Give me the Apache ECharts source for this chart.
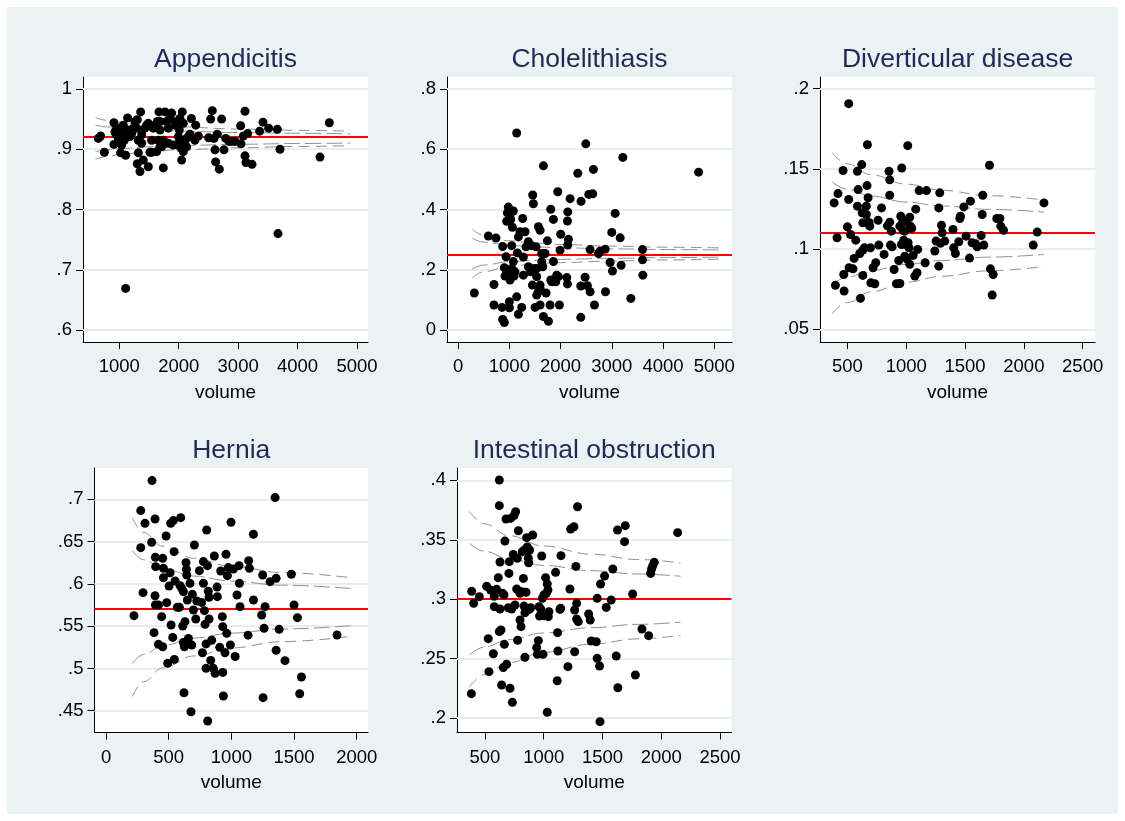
<!DOCTYPE html>
<html>
<head>
<meta charset="utf-8">
<script src="https://cdn.jsdelivr.net/npm/echarts@6/dist/echarts.min.js"></script>
<style>
html,body{margin:0;padding:0;background:#fff;}
#bg{position:absolute;left:7px;top:7px;width:1111px;height:807px;background:#EAF2F3;}
#main{position:absolute;left:0;top:0;width:1125px;height:821px;}
</style>
</head>
<body>
<div id="bg"></div>
<div id="main"></div>
<script>
// ---------------- DATA ----------------
const titles = ['Appendicitis','Cholelithiasis','Diverticular disease','Hernia','Intestinal obstruction'];

const appXTicks = [1000,2000,3000,4000,5000];
const appYTicks = [0.6,0.7,0.8,0.9,1];
const appMean = 0.918;
const appendicitis = [[647,.918],[686,.922],[748,.895],[910,.944],[910,.908],[927,.929],[944,.925],[1022,.894],[1067,.940],[1084,.915],[1107,.890],[1107,.669],[1140,.952],[1151,.932],[1180,.921],[1236,.935],[1264,.946],[1303,.949],[1320,.915],[1320,.894],[1303,.876],[1348,.863],[1359,.962],[1376,.910],[1404,.882],[1488,.943],[1488,.871],[1516,.895],[1544,.895],[1572,.935],[1640,.946],[1668,.962],[1684,.932],[1712,.904],[1741,.869],[1769,.962],[1741,.915],[1825,.935],[1825,.910],[1853,.951],[1881,.960],[1909,.907],[1965,.946],[2010,.932],[2038,.902],[2049,.882],[2060,.962],[2077,.943],[2105,.915],[2133,.904],[2189,.925],[2212,.951],[2273,.915],[2285,.940],[2330,.922],[2503,.919],[2537,.950],[2565,.964],[2593,.918],[2610,.899],[2621,.879],[2649,.925],[2683,.867],[2722,.950],[2762,.899],[2790,.918],[2846,.913],[2891,.913],[2947,.913],[3042,.939],[3048,.909],[3087,.922],[3115,.889],[3115,.963],[3132,.878],[3160,.926],[3233,.875],[3362,.930],[3418,.945],[3513,.935],[3659,.933],[3704,.900],[3670,.760],[4377,.887],[4534,.944],[1011,.929],[1056,.921],[1123,.926],[1208,.926],[1292,.935],[1376,.924],[1432,.935],[1460,.940],[1544,.915],[1600,.940],[1656,.915],[1684,.946],[1797,.946],[1937,.940],[1993,.921],[2021,.951],[2077,.896],[2133,.918],[2161,.921],[1684,.904],[1769,.910],[2021,.915],[983,.918],[955,.935],[1039,.907],[1628,.896],[1982,.907]];
const appN  = [600,800,1000,1500,2000,3000,4000,4890];
const appU3 = [.9526,.9480,.9448,.9399,.9370,.9335,.9314,.9301];
const appU2 = [.9400,.9370,.9350,.9319,.9300,.9278,.9265,.9257];
const appL2 = [.8960,.8990,.9010,.9041,.9060,.9082,.9095,.9103];
const appL3 = [.8834,.8880,.8912,.8961,.8990,.9025,.9046,.9059];

const choXTicks = [0,1000,2000,3000,4000,5000];
const choYTicks = [0,0.2,0.4,0.6,0.8];
const choMean = 0.2537;
const cholelithiasis = [[316,.123],[590,.312],[700,.151],[700,.083],[739,.305],[857,.075],[870,.277],[870,.035],[902,.025],[902,.207],[915,.179],[935,.243],[948,.361],[961,.389],[980,.408],[1000,.074],[1000,.094],[1013,.383],[1026,.367],[1046,.280],[1059,.341],[1046,.204],[1013,.166],[1078,.395],[1091,.179],[1143,.654],[1156,.256],[1143,.110],[1176,.052],[1176,.309],[1208,.326],[1241,.075],[1261,.370],[1274,.242],[1274,.182],[1306,.326],[1326,.276],[1371,.293],[1436,.280],[1450,.149],[1456,.448],[1469,.419],[1482,.204],[1502,.075],[1521,.276],[1534,.116],[1567,.343],[1600,.331],[1600,.083],[1600,.149],[1632,.254],[1652,.210],[1665,.545],[1665,.045],[1697,.254],[1717,.123],[1743,.296],[1763,.029],[1795,.083],[1808,.401],[1808,.166],[1860,.367],[1860,.227],[1906,.160],[1945,.459],[1958,.177],[1977,.083],[2003,.318],[1990,.265],[2121,.174],[2134,.362],[2140,.392],[2153,.301],[2186,.436],[2140,.282],[2134,.153],[2336,.520],[2394,.146],[2394,.042],[2400,.427],[2479,.175],[2492,.618],[2524,.147],[2550,.450],[2576,.127],[2576,.267],[2628,.452],[2641,.533],[2661,.083],[2740,.254],[2772,.262],[2870,.268],[2876,.127],[2967,.224],[3000,.324],[3013,.196],[3065,.387],[3163,.306],[3182,.215],[3215,.573],[3371,.105],[3599,.267],[3599,.233],[3606,.182],[4694,.524],[948,.193],[1078,.227],[1110,.193],[1371,.210],[1417,.193],[1534,.204],[1632,.227],[1534,.177],[1600,.138],[1567,.127],[1925,.182],[1828,.160]];
const choN  = [277,500,1000,1500,2000,3000,4000,5117];
const choU3 = [.3345,.3138,.2962,.2884,.2838,.2783,.2750,.2725];
const choU2 = [.3049,.2918,.2807,.2757,.2728,.2693,.2672,.2656];
const choL2 = [.2025,.2156,.2267,.2317,.2346,.2381,.2402,.2418];
const choL3 = [.1729,.1936,.2112,.2190,.2236,.2292,.2324,.2349];

const divXTicks = [500,1000,1500,2000,2500];
const divYTicks = [0.05,0.1,0.15,0.2];
const divMean = 0.1099;
const diverticular = [[387,.1288],[398,.0774],[412,.1071],[420,.1346],[463,.149],[469,.0842],[472,.0739],[500,.1139],[511,.1907],[511,.1309],[514,.0884],[526,.1091],[548,.0877],[557,.0942],[571,.1056],[585,.1268],[585,.1485],[591,.1371],[605,.0973],[611,.0693],[622,.1527],[625,.1226],[631,.1164],[631,.0836],[631,.0994],[645,.1008],[661,.1268],[661,.1216],[667,.1396],[670,.1651],[676,.1320],[684,.1166],[690,.1143],[696,.1008],[699,.0790],[718,.0884],[733,.0784],[741,.0915],[761,.1180],[767,.1025],[790,.1257],[812,.0967],[840,.1145],[854,.1485],[860,.1432],[860,.1336],[860,.1168],[866,.1025],[874,.1112],[880,.1015],[897,.0873],[917,.0784],[937,.0929],[946,.0786],[954,.1205],[962,.1506],[968,.1164],[973,.1116],[979,.1056],[988,.0956],[996,.1029],[1002,.1174],[1007,.0938],[1013,.1645],[1016,.1040],[1030,.0905],[1030,.1199],[1036,.1143],[1047,.1129],[1059,.0961],[1073,.0832],[1081,.1249],[1092,.0853],[1098,.0998],[1110,.1365],[1161,.0915],[1172,.1365],[1243,.0988],[1254,.1050],[1277,.1257],[1277,.0894],[1285,.1351],[1291,.1036],[1300,.1149],[1305,.1102],[1328,.1050],[1398,.1122],[1404,.1008],[1418,.0973],[1447,.1046],[1456,.1191],[1461,.1205],[1490,.1263],[1509,.1081],[1546,.1299],[1538,.0944],[1560,.1039],[1591,.1033],[1603,.1015],[1637,.1085],[1646,.1216],[1651,.1336],[1660,.1025],[1708,.1523],[1716,.0877],[1739,.0842],[1731,.0714],[1770,.1191],[1796,.1191],[1804,.1143],[1827,.1118],[2080,.1025],[2114,.1106],[2171,.1288],[946,.1143],[988,.1112],[1024,.1008],[960,.1029]];
const divN  = [370,500,700,1000,1300,1700,2171];
const divU3 = [.1601,.1531,.1464,.1405,.1367,.1333,.1306];
const divU2 = [.1418,.1373,.1331,.1293,.1269,.1248,.1231];
const divL2 = [.0780,.0825,.0867,.0905,.0929,.0950,.0967];
const divL3 = [.0597,.0667,.0734,.0793,.0831,.0865,.0892];

const herXTicks = [0,500,1000,1500,2000];
const herYTicks = [0.45,0.5,0.55,0.6,0.65,0.7];
const herMean = 0.5725;
const hernia = [[223,.5624],[277,.6866],[277,.6428],[295,.5896],[311,.6716],[367,.7221],[364,.6491],[383,.5423],[391,.6767],[391,.5860],[394,.6314],[394,.5750],[396,.6203],[418,.5750],[418,.5285],[444,.5612],[452,.6302],[452,.5257],[458,.6184],[458,.6073],[479,.6566],[484,.5778],[492,.5060],[503,.5975],[511,.6132],[519,.5513],[516,.6716],[532,.5367],[537,.6748],[543,.6381],[545,.5107],[551,.6034],[569,.5722],[585,.5722],[591,.5979],[596,.6783],[604,.5947],[612,.5502],[617,.5307],[617,.5908],[622,.4713],[625,.5257],[630,.5553],[638,.6251],[641,.6172],[644,.6105],[649,.5809],[657,.5355],[670,.6006],[678,.4488],[684,.5276],[689,.5876],[697,.5691],[705,.6460],[716,.5584],[724,.5797],[745,.6156],[763,.5781],[769,.5186],[777,.6006],[777,.6263],[785,.5683],[790,.5521],[798,.5290],[798,.5001],[803,.6637],[809,.6215],[811,.4378],[816,.5913],[822,.5584],[822,.5841],[835,.5095],[843,.5333],[856,.5001],[864,.6330],[870,.4942],[886,.5962],[888,.5849],[907,.5249],[915,.6152],[928,.5612],[931,.4953],[931,.5494],[936,.4674],[949,.5186],[957,.6349],[963,.5415],[968,.6097],[976,.6192],[992,.5277],[997,.6728],[1016,.6176],[1030,.5141],[1045,.5868],[1061,.6215],[1064,.6006],[1069,.5730],[1133,.5393],[1138,.6274],[1144,.6184],[1176,.6586],[1176,.5809],[1242,.5632],[1250,.6105],[1253,.4654],[1261,.5474],[1269,.5730],[1309,.6026],[1349,.7020],[1357,.6065],[1357,.5214],[1381,.5462],[1428,.5092],[1479,.6113],[1500,.5750],[1527,.5600],[1545,.4701],[1559,.4898],[1843,.5395]];
const herN  = [210,300,450,700,1000,1400,1968];
const herU3 = [.6780,.6608,.6446,.6303,.6208,.6134,.6070];
const herU2 = [.6394,.6285,.6182,.6092,.6032,.5984,.5944];
const herL2 = [.5056,.5165,.5268,.5359,.5418,.5466,.5507];
const herL3 = [.4670,.4843,.5004,.5147,.5242,.5317,.5381];

const intXTicks = [500,1000,1500,2000,2500];
const intYTicks = [0.2,0.25,0.3,0.35,0.4];
const intMean = 0.3;
const intestinal = [[384,.2205],[387,.3066],[404,.2965],[452,.3021],[514,.3108],[528,.2668],[534,.2390],[548,.3077],[571,.2541],[579,.3024],[579,.2937],[599,.3083],[613,.3181],[622,.2727],[622,.4003],[622,.3787],[628,.3313],[628,.2917],[636,.2741],[642,.2278],[650,.3049],[656,.2424],[662,.3035],[670,.3489],[665,.2620],[679,.3675],[684,.2452],[699,.2928],[704,.3217],[707,.3316],[713,.2250],[718,.3680],[727,.2917],[733,.2132],[741,.3377],[747,.3703],[755,.2951],[761,.3736],[770,.3086],[775,.3344],[778,.2654],[784,.3576],[798,.3049],[798,.2825],[807,.2769],[813,.3063],[818,.3400],[827,.3175],[832,.2942],[835,.3414],[840,.2511],[840,.2886],[849,.3058],[855,.3518],[860,.3440],[863,.3400],[869,.3344],[872,.3307],[877,.2914],[880,.3414],[889,.2928],[906,.3540],[940,.2592],[946,.2536],[954,.2651],[960,.2937],[965,.2858],[974,.2917],[983,.3363],[989,.3007],[994,.2536],[1002,.3035],[1008,.2861],[1016,.3181],[1022,.3049],[1030,.3128],[1030,.2048],[1036,.3077],[1039,.2853],[1044,.2895],[1101,.3226],[1115,.2314],[1118,.2718],[1121,.2564],[1138,.2914],[1144,.2923],[1147,.3366],[1206,.2432],[1223,.3086],[1229,.3590],[1257,.3610],[1263,.2558],[1263,.2909],[1274,.3276],[1280,.2965],[1280,.2833],[1288,.3778],[1294,.2811],[1382,.2875],[1396,.2825],[1404,.2648],[1447,.2642],[1455,.2502],[1455,.3007],[1475,.2438],[1479,.1969],[1484,.3128],[1518,.3195],[1532,.2931],[1574,.2993],[1588,.3254],[1617,.2522],[1628,.3582],[1631,.2255],[1688,.3484],[1694,.3619],[1757,.3044],[1780,.2362],[1836,.2749],[1893,.2693],[1910,.3217],[1918,.3254],[1927,.3279],[1941,.3310],[2140,.3560]];
const intN  = [367,500,700,1000,1400,1800,2165];
const intU3 = [.3739,.3633,.3535,.3448,.3379,.3334,.3304];
const intU2 = [.3469,.3402,.3340,.3284,.3240,.3212,.3193];
const intL2 = [.2531,.2598,.2660,.2716,.2760,.2788,.2807];
const intL3 = [.2261,.2367,.2465,.2552,.2621,.2666,.2696];

// ---------------- LAYOUT ----------------
const FONT = 'Liberation Sans, Arial, sans-serif';
const panels = [
  {title:titles[0], grid:{left:83, top:77, width:285, height:265}, xMin:389, xMax:5185, yMin:0.5801, yMax:1.0199,
   xT:appXTicks, yT:appYTicks, pts:appendicitis, mean:appMean, n:appN, lim:[appU3,appU2,appL2,appL3]},
  {title:titles[1], grid:{left:447, top:77, width:285, height:265}, xMin:-217, xMax:5346, yMin:-0.0398, yMax:0.8398,
   xT:choXTicks, yT:choYTicks, pts:cholelithiasis, mean:choMean, n:choN, lim:[choU3,choU2,choL2,choL3]},
  {title:titles[2], grid:{left:820, top:77, width:275, height:265}, xMin:267, xMax:2605, yMin:0.0421, yMax:0.2073,
   xT:divXTicks, yT:divYTicks, pts:diverticular, mean:divMean, n:divN, lim:[divU3,divU2,divL2,divL3]},
  {title:titles[3], grid:{left:94.5, top:468, width:273.5, height:264.7}, xMin:-92, xMax:2090, yMin:0.424, yMax:0.737,
   xT:herXTicks, yT:herYTicks, pts:hernia, mean:herMean, n:herN, lim:[herU3,herU2,herL2,herL3]},
  {title:titles[4], grid:{left:457, top:468, width:274.5, height:264.5}, xMin:262, xMax:2598, yMin:0.1878, yMax:0.4104,
   xT:intXTicks, yT:intYTicks, pts:intestinal, mean:intMean, n:intN, lim:[intU3,intU2,intL2,intL3]}
];

const fmtY = v => { let s = String(Math.round(v*1000)/1000); return s.replace(/^0(?=\.)/,''); };

const grids=[], xAxes=[], yAxes=[], series=[], graphics=[];
panels.forEach((p,i)=>{
  grids.push(Object.assign({show:true, backgroundColor:'#fff', borderWidth:0, containLabel:false}, p.grid));
  xAxes.push({type:'value', gridIndex:i, min:p.xMin, max:p.xMax,
    axisLine:{show:true, onZero:false, lineStyle:{color:'#000', width:1}},
    axisTick:{show:true, length:7, customValues:p.xT, lineStyle:{color:'#000', width:1}},
    axisLabel:{show:true, customValues:p.xT, formatter:v=>String(v), fontSize:18.5, color:'#000', margin:15.5, fontFamily:FONT},
    splitLine:{show:false},
    name:'volume', nameLocation:'middle', nameGap:41, nameTextStyle:{fontSize:19, color:'#000', fontFamily:FONT}});
  yAxes.push({type:'value', gridIndex:i, min:p.yMin, max:p.yMax,
    axisLine:{show:true, onZero:false, lineStyle:{color:'#000', width:1}},
    axisTick:{show:true, length:7, customValues:p.yT, lineStyle:{color:'#000', width:1}},
    axisLabel:{show:true, customValues:p.yT, formatter:fmtY, fontSize:18.5, color:'#000', margin:11, fontFamily:FONT},
    splitLine:{show:false}});
  // gridlines + mean line
  series.push({type:'line', xAxisIndex:i, yAxisIndex:i, data:[], silent:true, z:1,
    markLine:{silent:true, z:1, symbol:['none','none'], animation:false, label:{show:false},
      lineStyle:{color:'#E6EEF0', width:2, type:'solid'},
      emphasis:{disabled:true},
      data:p.yT.map(v=>({yAxis:v}))}});
  series.push({type:'line', xAxisIndex:i, yAxisIndex:i, data:[], silent:true, z:2,
    markLine:{silent:true, z:2, symbol:['none','none'], animation:false, label:{show:false},
      lineStyle:{color:'#FF0000', width:2, type:'solid'},
      emphasis:{disabled:true},
      data:[{yAxis:p.mean}]}});
  p.lim.forEach((arr,k)=>{
    const outer = (k===0||k===3);
    series.push({type:'line', xAxisIndex:i, yAxisIndex:i, z:2, silent:true, animation:false,
      data:p.n.map((x,j)=>[x,arr[j]]), smooth:0.4, smoothMonotone:'x', showSymbol:false, symbol:'none',
      lineStyle:{color:'#8f8f8f', width:1, type: outer ? [11,6] : [16,5]}});
  });
  series.push({type:'scatter', xAxisIndex:i, yAxisIndex:i, z:3, data:p.pts, symbol:'circle', symbolSize:9,
    itemStyle:{color:'#000', opacity:1}, animation:false, silent:true});
  const cx = p.grid.left + p.grid.width/2;
  const cy = p.grid.top - 17.5;
  graphics.push({type:'text', x:cx, y:cy, z:10, style:{text:p.title, fill:'#1f2b56', font:'26.5px '+FONT,
    fontSize:26.5, fontFamily:FONT, align:'center', textAlign:'center', verticalAlign:'middle', textVerticalAlign:'middle'}});
});

const chart = echarts.init(document.getElementById('main'), null, {renderer:'canvas'});
chart.setOption({
  backgroundColor:'transparent',
  animation:false,
  textStyle:{fontFamily:FONT},
  grid:grids, xAxis:xAxes, yAxis:yAxes, series:series, graphic:graphics
});
</script>
</body>
</html>
